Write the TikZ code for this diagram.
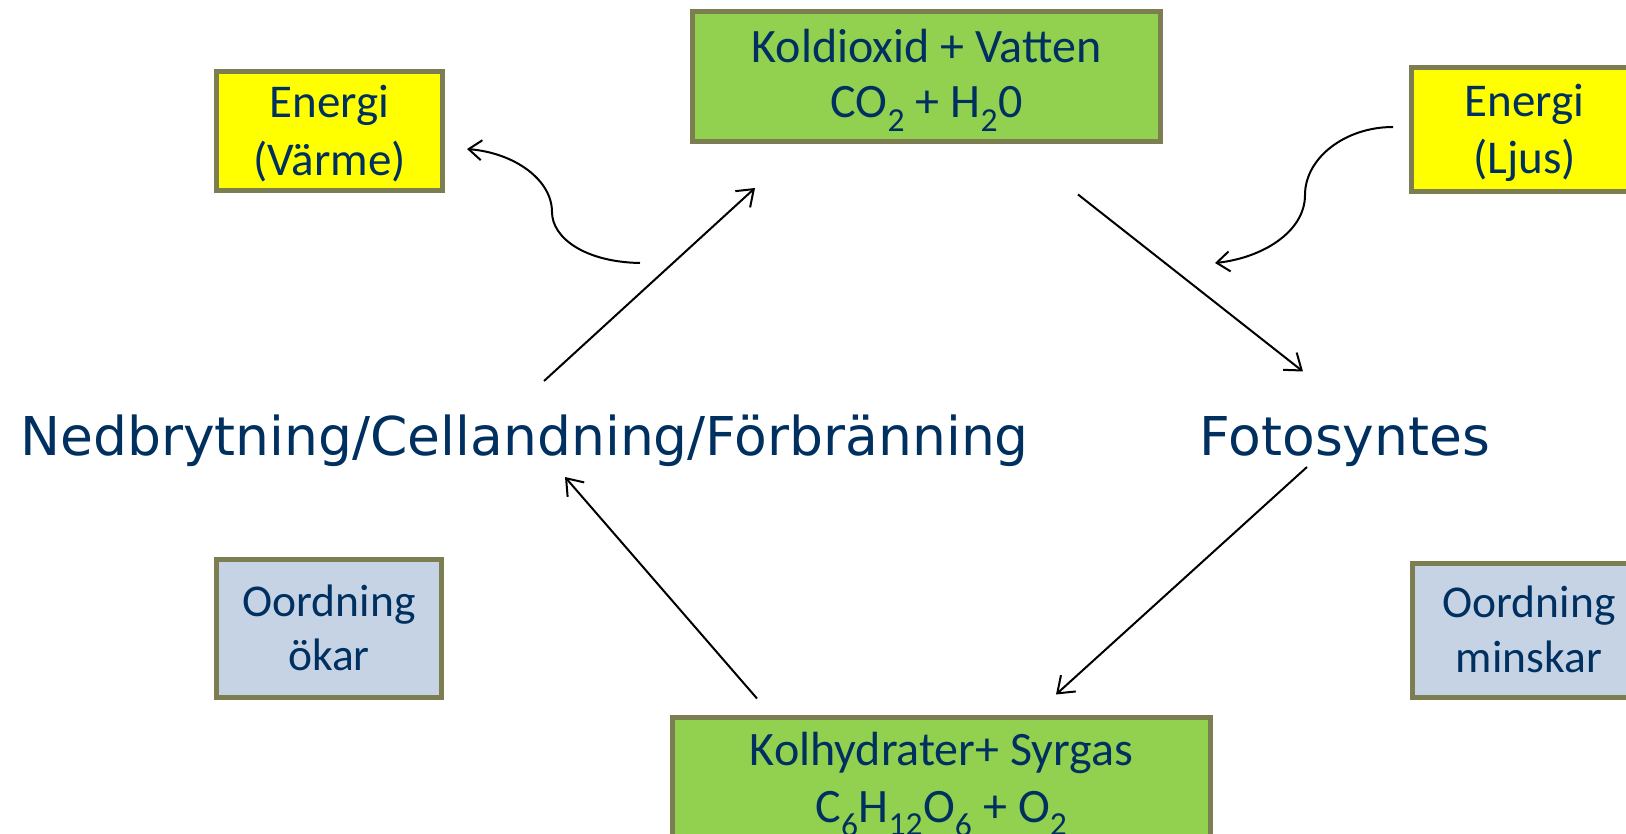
\documentclass[tikz,border=0pt]{standalone}
\usepackage{fontspec}
\setmainfont{Carlito}
\newfontfamily\bigfont{DejaVu Sans}
\usetikzlibrary{arrows.meta,calc}
\definecolor{txtc}{RGB}{0,48,96}
\definecolor{bordc}{RGB}{125,125,82}
\definecolor{greenc}{RGB}{146,208,80}
\definecolor{yellowc}{RGB}{255,255,0}
\definecolor{bluec}{RGB}{198,211,228}
\begin{document}
\begin{tikzpicture}[x=1pt,y=-1pt,
  box/.style={draw=bordc, line width=5pt, rectangle, inner sep=0pt, align=center,
    text=txtc, text depth=0pt},
  big/.style={text=txtc, inner sep=0pt, font=\bigfont\fontsize{53.5}{64}\selectfont},
  arr/.style={line width=2pt, -{Straight Barb[length=15pt,width=22pt,line width=2pt]}},
  carr/.style={line width=2pt, -{Straight Barb[length=13pt,width=20pt,line width=2pt]}}]
\useasboundingbox (0,0) rectangle (1626,834);
\fill[white] (0,0) rectangle (1626,834);

% boxes
\node[box, fill=greenc, minimum width=468pt, minimum height=130pt, text height=83pt,
  font=\fontsize{48}{55}\selectfont] (co2) at (926.5,76.5)
  {Koldioxid + Vatten\\CO\textsubscript{2} + H\textsubscript{2}0};
\node[box, fill=greenc, minimum width=538pt, minimum height=130pt, text height=79pt,
  font=\fontsize{48}{57}\selectfont] (carb) at (941.5,782.5)
  {Kolhydrater+ Syrgas\\C\textsubscript{6}H\textsubscript{12}O\textsubscript{6} + O\textsubscript{2}};
\node[box, fill=yellowc, minimum width=226pt, minimum height=119pt, text height=90pt,
  font=\fontsize{47}{58}\selectfont] (warm) at (329.5,131) {Energi\\(Värme)};
\node[box, fill=yellowc, minimum width=226pt, minimum height=124pt, text height=88pt,
  font=\fontsize{47}{57}\selectfont] (light) at (1524.5,129.5) {Energi\\(Ljus)};
\node[box, fill=bluec, minimum width=225pt, minimum height=138pt, text height=84pt,
  font=\fontsize{45.5}{54}\selectfont] (okar) at (329,628.5) {Oordning\\ökar};
\node[box, fill=bluec, minimum width=233pt, minimum height=134pt, text height=83pt,
  font=\fontsize{45.5}{55}\selectfont] (minskar) at (1529,630.5) {Oordning\\minskar};

% process labels
\node[big, anchor=base] (ned) at (524.5,455) {Nedbrytning/Cellandning/Förbränning};
\node[big, anchor=base] (foto) at (1345,455) {Fotosyntes};

% cycle arrows
\draw[arr] ($(ned.base)+(19.5,-74)$) -- ($(co2.south)+(-171.5,44)$);
\draw[arr] ($(co2.south)+(151.5,50.5)$) -- ($(foto.base)+(-42,-83.5)$);
\draw[arr] ($(foto.base)+(-38,12)$) -- ($(carb.north)+(114.5,-20.5)$);
\draw[arr] ($(carb.north)+(-184.5,-16.5)$) -- ($(ned.base)+(40.5,22)$);

% energy arrows
\coordinate (wstart) at (640,263);
\coordinate (lend) at (1215,263);
\draw[carr] (wstart) .. controls (585,262) and (552,238) .. (552,212)
  .. controls (552,180) and (515,153) .. ($(warm.east)+(22,18)$);
\draw[carr] ($(light.west)+(-16,-2.5)$) .. controls (1345,127) and (1305,158) .. (1305,195)
  .. controls (1305,232) and (1262,258) .. (lend);
\end{tikzpicture}
\end{document}
